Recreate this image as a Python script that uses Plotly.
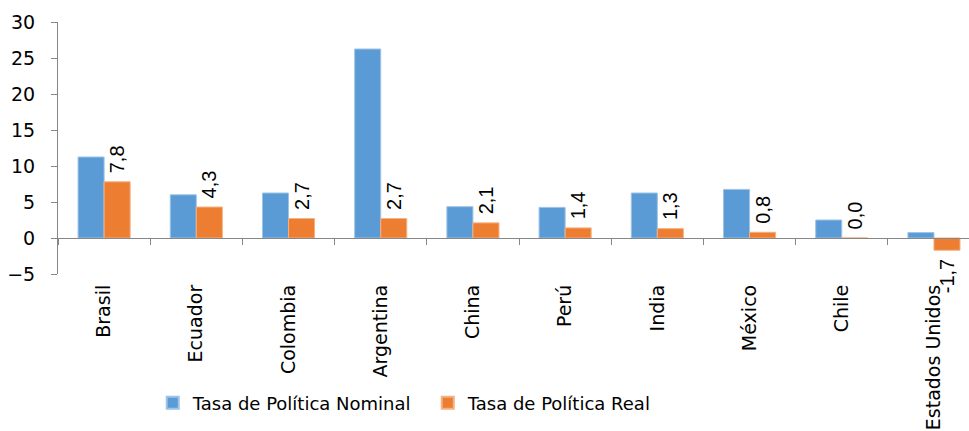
import plotly.graph_objects as go

categories = ["Brasil", "Ecuador", "Colombia", "Argentina", "China", "Perú",
              "India", "México", "Chile", "Estados Unidos"]
nominal = [11.25, 6.0, 6.25, 26.25, 4.35, 4.25, 6.25, 6.75, 2.5, 0.75]
real = [7.8, 4.3, 2.7, 2.7, 2.1, 1.4, 1.3, 0.8, 0.0, -1.7]
y_ticks = [-5, 0, 5, 10, 15, 20, 25, 30]

NBSP = "\u00a0"
real_labels = [(NBSP + f"{v:.1f}".replace(".", ",")) if v >= 0
               else (f"{v:.1f}".replace(".", ",") + NBSP) for v in real]

BLUE = "#5B9BD5"
ORANGE = "#ED7D31"
AXIS = "#868686"
TICKFONT = "DejaVu Sans"

fig = go.Figure()
fig.add_trace(go.Bar(
    x=categories, y=nominal, name="Tasa de Política Nominal",
    marker=dict(color=BLUE, line=dict(color="#9DC3E6", width=1)),
))
fig.add_trace(go.Bar(
    x=categories, y=real, name="Tasa de Política Real",
    marker=dict(color=ORANGE, line=dict(color="#F4B183", width=1)),
    text=real_labels, textposition="outside", textangle=-90,
    textfont=dict(family="Liberation Sans", size=20, color="black"),
    constraintext="none", cliponaxis=False,
))

# invisible trace on overlay axis to draw the zero axis line with boundary ticks
fig.add_trace(go.Scatter(
    x=categories, y=[0] * len(categories), xaxis="x2", mode="markers",
    marker=dict(opacity=0), showlegend=False, hoverinfo="skip",
))

n = len(categories)
fig.update_layout(
    width=969, height=431,
    margin=dict(l=58, r=0, t=22, b=157),
    paper_bgcolor="white", plot_bgcolor="white",
    barmode="group", bargap=0.435, bargroupgap=0,
    showlegend=True,
    legend=dict(orientation="h", x=0.104, xanchor="left", y=-0.512, yanchor="middle",
                font=dict(family=TICKFONT, size=18, color="black"),
                itemsizing="constant", traceorder="normal", entrywidth=230),
    xaxis=dict(
        type="category", range=[-0.5, n - 0.62], automargin=False,
        showline=False, ticks="", tickangle=-90,
        tickfont=dict(family=TICKFONT, size=19, color="black"),
        ticklabelstandoff=6, showgrid=False, zeroline=False,
    ),
    xaxis2=dict(
        type="category", overlaying="x", anchor="free", position=5 / 35,
        range=[-0.5, n - 0.62], showline=True, linecolor=AXIS, linewidth=1,
        ticks="outside", ticklen=6, tickcolor=AXIS, tickson="boundaries",
        showticklabels=False, showgrid=False, zeroline=False, automargin=False,
    ),
    yaxis=dict(
        range=[-5, 30], tickvals=y_ticks, showgrid=False, zeroline=False,
        showline=True, linecolor=AXIS, linewidth=1, automargin=False,
        ticks="outside", ticklen=6, tickcolor=AXIS,
        tickfont=dict(family=TICKFONT, size=19, color="black"),
        ticklabelstandoff=12,
    ),
)

fig.write_html("out.html", config={"displayModeBar": False},
               post_script="document.body.style.margin='0';")
